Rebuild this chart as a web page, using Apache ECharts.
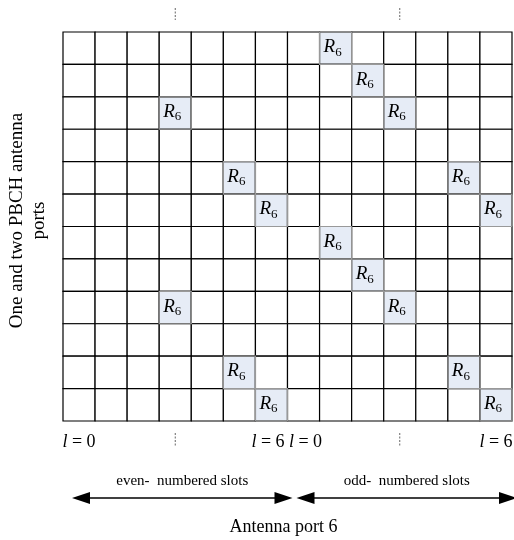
<!DOCTYPE html>
<html>
<head>
<meta charset="utf-8">
<script src="https://cdn.jsdelivr.net/npm/echarts@6/dist/echarts.min.js"></script>
<style>html,body{margin:0;padding:0;background:#fff}#c{width:514px;height:540px}</style>
</head>
<body>
<div id="c"></div>
<script>
// symbols l = 0..6 per slot, two slots
const columns = ['0','1','2','3','4','5','6','0','1','2','3','4','5','6'];
const rows = ['0','1','2','3','4','5','6','7','8','9','10','11'];
// R6 reference-signal cells: [column index, row index from top]
const r6Cells = [[8,0],[9,1],[3,2],[10,2],[5,4],[12,4],[6,5],[13,5],[8,6],[9,7],[3,8],[10,8],[5,10],[12,10],[6,11],[13,11]];
// column indices that carry a bottom "l = n" label
const symbolLabels = {0:'0', 6:'6', 7:'0', 13:'6'};
// dashed marks (mid-slot)
const dashedCols = [3, 10];
// slot spans
const slots = [[0, 6, 'even-  numbered slots'], [7, 13, 'odd-  numbered slots']];
const yTitle = 'One and two PBCH antenna\nports';
const xTitle = 'Antenna port 6';

const FONT = '"Liberation Serif","Times New Roman",serif';
const r6Set = new Set(r6Cells.map(c => c[0] + ',' + c[1]));
const cellData = [];
for (let r = 0; r < rows.length; r++) {
  for (let c = 0; c < columns.length; c++) {
    cellData.push([c, r, r6Set.has(c + ',' + r) ? 1 : 0]);
  }
}

const chart = echarts.init(document.getElementById('c'));
chart.setOption({
  animation: false,
  backgroundColor: '#fff',
  grid: {left: 63, right: 2, top: 32, bottom: 119, containLabel: false, outerBoundsMode: 'none'},
  xAxis: {
    type: 'category', data: columns, boundaryGap: true,
    axisLine: {show: false}, axisTick: {show: false}, splitLine: {show: false},
    axisLabel: {
      interval: 0, margin: 12,
      formatter: (v, i) => {
        if (symbolLabels[i] === undefined) return '';
        const core = '{i|l}{n| = ' + symbolLabels[i] + '}';
        if (i === 6) return core + '{g|}';
        if (i === 7) return '{h|}' + core;
        return core;
      },
      rich: {
        i: {fontFamily: FONT, fontStyle: 'italic', fontSize: 18, color: '#000'},
        n: {fontFamily: FONT, fontSize: 18, color: '#000'},
        g: {width: 7}, h: {width: 4}
      }
    },
    name: xTitle, nameLocation: 'middle', nameGap: 97,
    nameTextStyle: {fontFamily: FONT, fontSize: 18, color: '#000', padding: [0, 8, 0, 0]}
  },
  yAxis: {
    type: 'category', data: rows, inverse: true,
    axisLine: {show: false}, axisTick: {show: false}, axisLabel: {show: false}, splitLine: {show: false},
    name: yTitle, nameLocation: 'middle', nameRotate: 90, nameGap: 13,
    nameTextStyle: {fontFamily: FONT, fontSize: 19, color: '#000', lineHeight: 22, padding: [0, 0, 0, 12]}
  },
  series: [
    {
      type: 'custom', data: cellData,
      renderItem: (params, api) => {
        const p = api.coord([api.value(0), api.value(1)]);
        const s = api.size([1, 1]);
        const isR = api.value(2) === 1;
        const children = [{
          type: 'rect',
          shape: {x: p[0] - s[0] / 2, y: p[1] - s[1] / 2, width: s[0], height: s[1]},
          style: {fill: isR ? '#e6ecf6' : '#fff', stroke: '#000', lineWidth: 1.2}
        }];
        if (isR) {
          children.push({
            type: 'text', x: p[0] - 3, y: p[1] - 1,
            style: {
              text: '{r|R}{s|6}', align: 'center', verticalAlign: 'middle',
              rich: {
                r: {fontFamily: FONT, fontStyle: 'italic', fontSize: 19, color: '#000'},
                s: {fontFamily: FONT, fontSize: 13, color: '#000', padding: [10, 0, 0, 0]}
              }
            }
          });
        }
        return {type: 'group', children};
      },
      z: 1
    },
    {
      type: 'custom', data: r6Cells,
      renderItem: (params, api) => {
        const p = api.coord([api.value(0), api.value(1)]);
        const s = api.size([1, 1]);
        return {type: 'rect', shape: {x: p[0] - s[0] / 2, y: p[1] - s[1] / 2, width: s[0], height: s[1]},
          style: {fill: 'none', stroke: '#999', lineWidth: 1.2}};
      },
      z: 2
    },
    {
      type: 'custom', data: dashedCols.map(c => [c]), clip: false,
      renderItem: (params, api) => {
        const top = api.coord([api.value(0), 0]);
        const bot = api.coord([api.value(0), rows.length - 1]);
        const s = api.size([1, 1]);
        const yTop = top[1] - s[1] / 2, yBot = bot[1] + s[1] / 2;
        const st = {stroke: '#666', lineWidth: 1, lineDash: [2, 1.5]};
        return {type: 'group', children: [
          {type: 'line', shape: {x1: top[0], y1: yTop - 24, x2: top[0], y2: yTop - 12}, style: st},
          {type: 'line', shape: {x1: top[0], y1: yBot + 12, x2: top[0], y2: yBot + 25}, style: st}
        ]};
      }
    },
    {
      type: 'custom', data: slots, clip: false,
      renderItem: (params, api) => {
        const a = api.coord([api.value(0), rows.length - 1]);
        const b = api.coord([api.value(1), rows.length - 1]);
        const s = api.size([1, 1]);
        const x1 = a[0] - s[0] / 2 + 9, x2 = b[0] + s[0] / 2 + 5;
        const yb = a[1] + s[1] / 2;
        const y = yb + 77;
        const L = 18, H = 6;
        return {type: 'group', children: [
          {type: 'line', shape: {x1: x1 + L - 2, y1: y, x2: x2 - L + 2, y2: y}, style: {stroke: '#000', lineWidth: 1.5}},
          {type: 'polygon', shape: {points: [[x1, y], [x1 + L, y - H], [x1 + L, y + H]]}, style: {fill: '#000'}},
          {type: 'polygon', shape: {points: [[x2, y], [x2 - L, y - H], [x2 - L, y + H]]}, style: {fill: '#000'}},
          {type: 'text', x: (x1 + x2) / 2, y: yb + 60,
            style: {text: api.value(2), fontFamily: FONT, fontSize: 15, fill: '#000', align: 'center', verticalAlign: 'middle'}}
        ]};
      }
    }
  ]
});
</script>
</body>
</html>
